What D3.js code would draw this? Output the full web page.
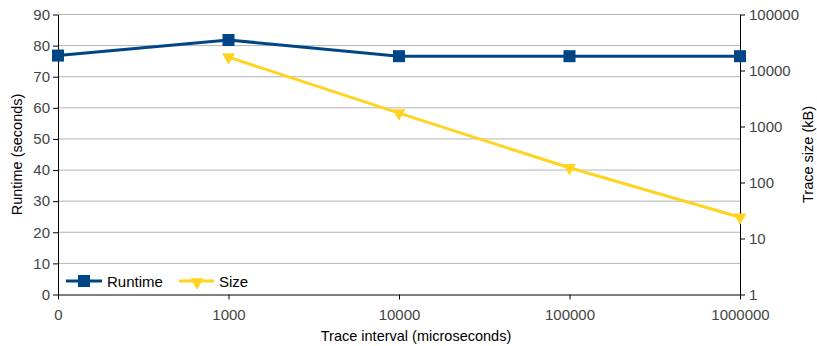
<!DOCTYPE html>
<html>
<head>
<meta charset="utf-8">
<script src="https://cdn.jsdelivr.net/npm/d3@7"></script>
<style>
  body { margin: 0; background: #fff; }
  text { font-family: "Liberation Sans", Arial, sans-serif; }
</style>
</head>
<body>
<svg id="mainsvg" width="817" height="346"></svg>
<script>
// data
var intervals = ["0", "1000", "10000", "100000", "1000000"];
var runtime = [76.8, 81.8, 76.6, 76.6, 76.6];
var sizeKB = [null, 17300, 1730, 183, 24];
var leftTicks = [0, 10, 20, 30, 40, 50, 60, 70, 80, 90];
var rightTicks = [1, 10, 100, 1000, 10000, 100000];

var svg = d3.select("#mainsvg");
var plotLeft = 58, plotRight = 740, plotTop = 14.5, plotBottom = 294.5;
var navy = "#004586", yellow = "#ffd320";

var x = d3.scalePoint().domain(intervals).range([plotLeft, plotRight]);
var y = d3.scaleLinear().domain([0, 90]).range([plotBottom, plotTop]);
var y2 = d3.scaleLog().domain([1, 100000]).range([plotBottom, plotTop]);

// grid
svg.append("g")
  .selectAll("line")
  .data(leftTicks.slice(1))
  .enter()
  .append("line")
  .attr("x1", plotLeft).attr("x2", plotRight)
  .attr("y1", function (d) { return y(d); })
  .attr("y2", function (d) { return y(d); })
  .attr("stroke", "#b3b3b3")
  .attr("stroke-width", 1);

var axisStyle = function (g) {
  g.select(".domain").attr("stroke", "#000");
  g.selectAll(".tick line").attr("stroke", "#000");
  g.selectAll(".tick text")
    .attr("fill", "#444")
    .style("font-size", "15px")
    .style("font-family", "Liberation Sans, Arial, sans-serif");
};

svg.append("g")
  .attr("transform", "translate(" + plotLeft + ",0)")
  .call(d3.axisLeft(y).tickValues(leftTicks).tickSize(5).tickSizeOuter(0).tickPadding(3))
  .call(axisStyle);

svg.append("g")
  .attr("transform", "translate(" + plotRight + ",0)")
  .call(d3.axisRight(y2).tickValues(rightTicks).tickFormat(d3.format("d")).tickSize(5).tickSizeOuter(0).tickPadding(4))
  .call(axisStyle);

svg.append("g")
  .attr("transform", "translate(0," + plotBottom + ")")
  .call(d3.axisBottom(x).tickSize(5).tickSizeOuter(0).tickPadding(10))
  .call(axisStyle);

// axis titles
svg.append("text")
  .attr("transform", "translate(22," + (plotTop + plotBottom) / 2 + ") rotate(-90)")
  .attr("text-anchor", "middle")
  .style("font-size", "14.5px")
  .text("Runtime (seconds)");

svg.append("text")
  .attr("transform", "translate(813," + (plotTop + plotBottom) / 2 + ") rotate(-90)")
  .attr("text-anchor", "middle")
  .style("font-size", "14.5px")
  .text("Trace size (kB)");

svg.append("text")
  .attr("x", (plotLeft + plotRight) / 2 + 17)
  .attr("y", 341)
  .attr("text-anchor", "middle")
  .style("font-size", "14.5px")
  .text("Trace interval (microseconds)");

// size series
var sizePts = intervals
  .map(function (d, i) { return { k: d, v: sizeKB[i] }; })
  .filter(function (d) { return d.v != null; });

var line2 = d3.line()
  .x(function (d) { return x(d.k); })
  .y(function (d) { return y2(d.v); });

svg.append("path")
  .attr("d", line2(sizePts))
  .attr("fill", "none")
  .attr("stroke", yellow)
  .attr("stroke-width", 3);

var tri = d3.symbol().type(d3.symbolTriangle).size(75);
svg.append("g")
  .selectAll("path")
  .data(sizePts)
  .enter()
  .append("path")
  .attr("d", tri)
  .attr("transform", function (d) {
    return "translate(" + x(d.k) + "," + y2(d.v) + ") rotate(180)";
  })
  .attr("fill", yellow);

// runtime series
var rtPts = intervals.map(function (d, i) { return { k: d, v: runtime[i] }; });
var line1 = d3.line()
  .x(function (d) { return x(d.k); })
  .y(function (d) { return y(d.v); });

svg.append("path")
  .attr("d", line1(rtPts))
  .attr("fill", "none")
  .attr("stroke", navy)
  .attr("stroke-width", 3);

svg.append("g")
  .selectAll("rect")
  .data(rtPts)
  .enter()
  .append("rect")
  .attr("x", function (d) { return x(d.k) - 6; })
  .attr("y", function (d) { return y(d.v) - 6; })
  .attr("width", 12)
  .attr("height", 12)
  .attr("fill", navy);

// legend
var lg = svg.append("g").attr("transform", "translate(0,281)");
lg.append("line").attr("x1", 66).attr("x2", 102).attr("stroke", navy).attr("stroke-width", 3);
lg.append("rect").attr("x", 78).attr("y", -6).attr("width", 12).attr("height", 12).attr("fill", navy);
lg.append("text").attr("x", 107).attr("y", 5.5).style("font-size", "15px").attr("fill", "#000").text("Runtime");
lg.append("line").attr("x1", 179).attr("x2", 214).attr("stroke", yellow).attr("stroke-width", 3);
lg.append("path").attr("d", tri).attr("transform", "translate(197,1) rotate(180)").attr("fill", yellow);
lg.append("text").attr("x", 219).attr("y", 5.5).style("font-size", "15px").attr("fill", "#000").text("Size");
</script>
</body>
</html>
